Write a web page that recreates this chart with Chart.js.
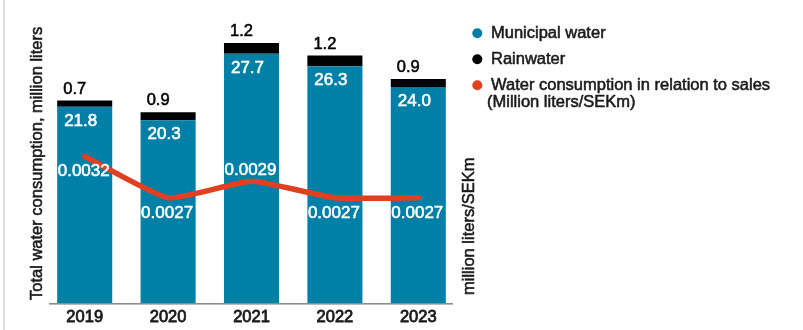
<!DOCTYPE html>
<html>
<head>
<meta charset="utf-8">
<script src="https://cdn.jsdelivr.net/npm/chart.js@4"></script>
<style>
  html, body { margin: 0; padding: 0; background: #ffffff; }
  #wrap { position: relative; width: 803px; height: 330px; }
</style>
</head>
<body>
<div id="wrap"><canvas id="c"></canvas></div>
<script>
// ---- data ----
const years = ['2019', '2020', '2021', '2022', '2023'];
const municipalWater = [21.8, 20.3, 27.7, 26.3, 24.0];
const rainwater = [0.7, 0.9, 1.2, 1.2, 0.9];
const waterPerSales = [0.0032, 0.0027, 0.0029, 0.0027, 0.0027];
const seriesNames = ['Municipal water', 'Rainwater', 'Water consumption in relation to sales (Million liters/SEKm)'];
const legendLines = [['Municipal water'], ['Rainwater'], ['Water consumption in relation to sales', '(Million liters/SEKm)']];
const leftTitle = 'Total water consumption, million liters';
const rightTitle = 'million liters/SEKm';

// ---- styles ----
const BLUE = '#0080a6';
const BLACK = '#000000';
const RED = '#e0401f';
const TEXT = '#1a1a1a';
const FONT = '"Liberation Sans", Arial, Helvetica, sans-serif';
const STROKE = 0.55;
const lineLabelAbove = [false, false, true, false, false];

Chart.defaults.font.family = FONT;
Chart.defaults.color = TEXT;

function txt(ctx, s, x, y, color) {
  ctx.fillStyle = color;
  ctx.strokeStyle = color;
  ctx.lineWidth = STROKE;
  ctx.lineJoin = 'round';
  ctx.strokeText(s, x, y);
  ctx.fillText(s, x, y);
}

const decorPlugin = {
  id: 'decor',
  afterDatasetsDraw(chart) {
    const ctx = chart.ctx;
    const ca = chart.chartArea;
    ctx.save();
    // baseline
    ctx.fillStyle = '#8c8c8c';
    ctx.fillRect(ca.left + 6, ca.bottom, (ca.right - 7) - (ca.left + 6), 1.6);
    // left page rule
    ctx.fillStyle = '#dedede';
    ctx.fillRect(3, 0, 2, chart.height);

    const mMeta = chart.getDatasetMeta(0);
    const rMeta = chart.getDatasetMeta(1);
    const lMeta = chart.getDatasetMeta(2);
    ctx.textBaseline = 'alphabetic';
    ctx.textAlign = 'center';
    ctx.font = '16.5px ' + FONT;
    rMeta.data.forEach((el, i) => {
      txt(ctx, rainwater[i].toFixed(1), el.x - 10, el.y - 7, BLACK);
    });
    ctx.font = '17px ' + FONT;
    mMeta.data.forEach((el, i) => {
      txt(ctx, municipalWater[i].toFixed(1), el.x - 4, el.y + 19, '#ffffff');
    });
    lMeta.data.forEach((el, i) => {
      const y = lineLabelAbove[i] ? el.y - 6 : el.y + 20;
      txt(ctx, waterPerSales[i].toFixed(4), el.x - 1, y, '#ffffff');
    });

    // axis titles (both read bottom-to-top)
    ctx.font = '16.5px ' + FONT;
    ctx.textAlign = 'left';
    ctx.save();
    ctx.translate(ca.left - 1.5, ca.bottom - 3);
    ctx.rotate(-Math.PI / 2);
    txt(ctx, leftTitle, 0, 0, TEXT);
    ctx.restore();
    ctx.save();
    ctx.translate(ca.right + 13.5, ca.bottom - 8);
    ctx.rotate(-Math.PI / 2);
    txt(ctx, rightTitle, 0, 0, TEXT);
    ctx.restore();

    // legend
    const colors = chart.data.datasets.map(d => d.legendColor);
    let base = 38.3;
    legendLines.forEach((lines, i) => {
      ctx.fillStyle = colors[i];
      ctx.beginPath();
      ctx.arc(477.3, base - 5, 5, 0, Math.PI * 2);
      ctx.fill();
      lines.forEach((t, k) => {
        txt(ctx, t, k === 0 ? 491 : 487, base + k * 17, TEXT);
      });
      base += 26;
    });
    ctx.restore();
  }
};

new Chart(document.getElementById('c'), {
  data: {
    labels: years,
    datasets: [
      {
        type: 'bar', label: seriesNames[0], data: municipalWater,
        backgroundColor: BLUE, legendColor: BLUE, stack: 's', order: 2,
        barPercentage: 0.66, categoryPercentage: 1.0
      },
      {
        type: 'bar', label: seriesNames[1], data: rainwater,
        backgroundColor: BLACK, legendColor: BLACK, stack: 's', order: 2,
        barPercentage: 0.66, categoryPercentage: 1.0
      },
      {
        type: 'line', label: seriesNames[2], data: waterPerSales, yAxisID: 'y2',
        borderColor: RED, legendColor: RED, borderWidth: 5.5, pointRadius: 0,
        tension: 0.15, borderCapStyle: 'round', borderJoinStyle: 'round', order: 0
      }
    ]
  },
  options: {
    responsive: true,
    maintainAspectRatio: false,
    animation: false,
    layout: { padding: { left: 43, right: 343, top: 33, bottom: 0 } },
    plugins: { legend: { display: false }, tooltip: { enabled: false } },
    scales: {
      x: {
        stacked: true,
        grid: { display: false, drawTicks: false },
        border: { display: false },
        ticks: { padding: 5, color: TEXT, font: { size: 16.5 }, textStrokeColor: TEXT, textStrokeWidth: 0.8 },
        afterFit(s) { s.height = 27; }
      },
      y: { stacked: true, display: false, min: 0, max: 30 },
      y2: { display: false, position: 'right', min: 0.00143, max: 0.00469 }
    }
  },
  plugins: [decorPlugin]
});
</script>
</body>
</html>
